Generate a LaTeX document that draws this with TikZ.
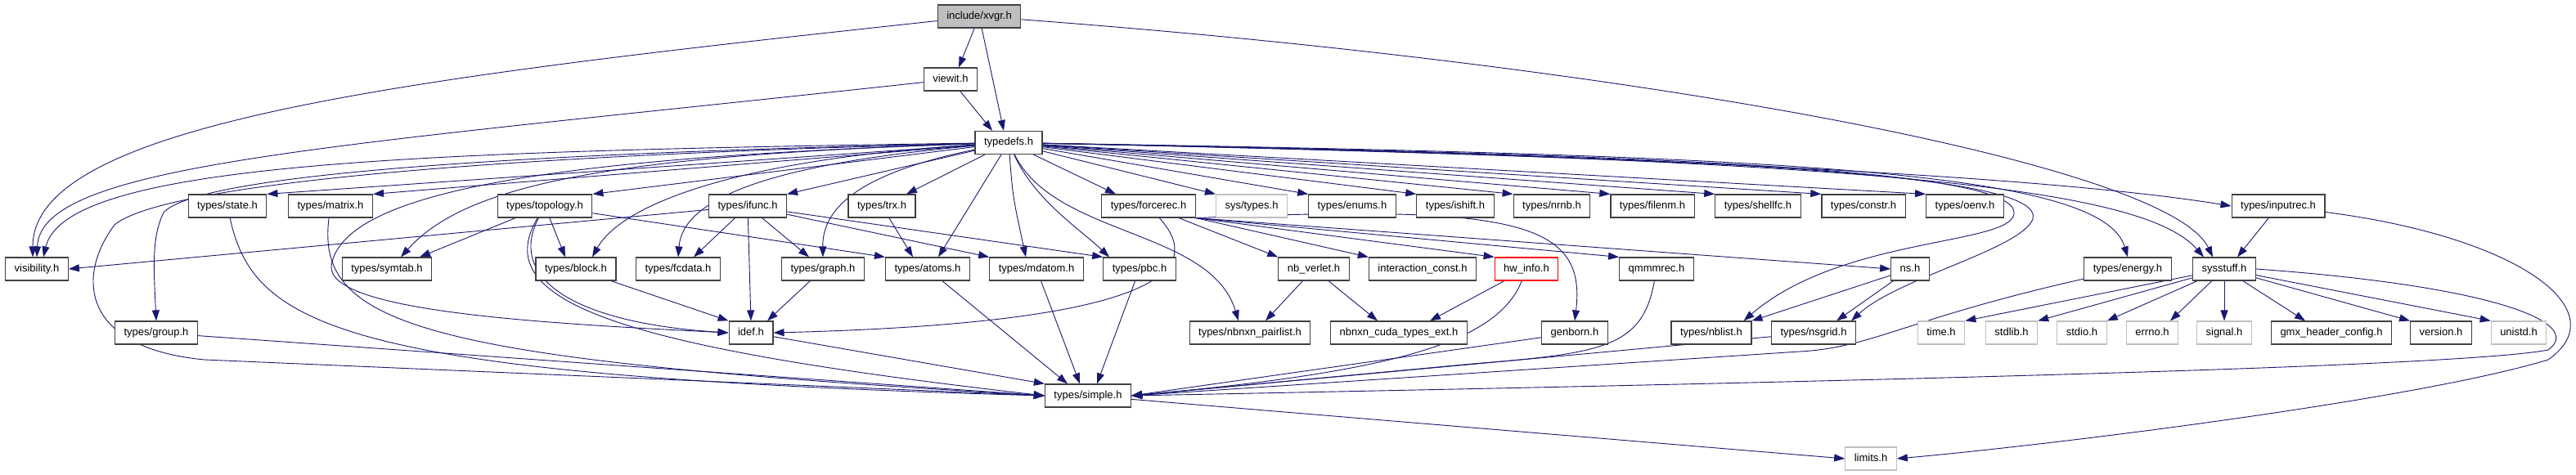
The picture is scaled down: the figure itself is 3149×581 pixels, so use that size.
\documentclass[tikz,border=0pt]{standalone}
\usepackage{fontspec}
\setmainfont{Liberation Sans}
\usepackage{tikz}
\usetikzlibrary{arrows.meta,backgrounds}
\definecolor{edgeblue}{HTML}{191970}

\begin{document}
\begin{tikzpicture}[x=1pt, y=-1pt, font=\fontsize{13}{15}\selectfont,
  box/.style={draw=black!75, line width=1.2pt, fill=white, inner xsep=11pt, inner ysep=0pt, minimum height=28pt, text height=9.5pt, text depth=2.7pt},
  sysbox/.style={box, draw=black!25},
  arr/.style={-{Triangle[length=13pt, width=9pt]}, line width=0.9pt, edgeblue}]
\useasboundingbox (0,0) rectangle (3149,581);
% top
\node[box, fill=black!25] (xvgr) at (1197,20) {include/xvgr.h};
\node[box] (viewit) at (1162,97) {viewit.h};
\node[box] (typedefs) at (1233,174.5) {typedefs.h};
% row 1
\node[box] (state) at (278,252) {types/state.h};
\node[box] (matrix) at (404,252) {types/matrix.h};
\node[box] (topology) at (666,252) {types/topology.h};
\node[box] (ifunc) at (914,252) {types/ifunc.h};
\node[box] (trx) at (1078,252) {types/trx.h};
\node[box] (forcerec) at (1404,252) {types/forcerec.h};
\node[sysbox] (systypes) at (1530,252) {sys/types.h};
\node[box] (enums) at (1653,252) {types/enums.h};
\node[box] (ishift) at (1779,252) {types/ishift.h};
\node[box] (nrnb) at (1897,252) {types/nrnb.h};
\node[box] (filenm) at (2020,252) {types/filenm.h};
\node[box] (shellfc) at (2149,252) {types/shellfc.h};
\node[box] (constr) at (2278,252) {types/constr.h};
\node[box] (oenv) at (2402,252) {types/oenv.h};
\node[box] (inputrec) at (2785,252) {types/inputrec.h};
% row 2
\node[box] (visibility) at (45,329) {visibility.h};
\node[box] (symtab) at (473,329) {types/symtab.h};
\node[box] (block) at (704,329) {types/block.h};
\node[box] (fcdata) at (829,329) {types/fcdata.h};
\node[box] (graph) at (1006,329) {types/graph.h};
\node[box] (atoms) at (1134,329) {types/atoms.h};
\node[box] (mdatom) at (1267,329) {types/mdatom.h};
\node[box] (pbc) at (1393,329) {types/pbc.h};
\node[box] (nbverlet) at (1606,329) {nb\_verlet.h};
\node[box] (iconst) at (1739,329) {interaction\_const.h};
\node[box, draw=red] (hwinfo) at (1866,329) {hw\_info.h};
\node[box] (qmmm) at (2025,329) {qmmmrec.h};
\node[box] (ns) at (2335,329) {ns.h};
\node[box] (energy) at (2601,329) {types/energy.h};
\node[box] (sysstuff) at (2719,329) {sysstuff.h};
% row 3
\node[box] (group) at (191,407) {types/group.h};
\node[box] (idef) at (918,407) {idef.h};
\node[box] (pairlist) at (1528,407) {types/nbnxn\_pairlist.h};
\node[box] (cudaext) at (1710,407) {nbnxn\_cuda\_types\_ext.h};
\node[box] (genborn) at (1925,407) {genborn.h};
\node[box] (nblist) at (2092,407) {types/nblist.h};
\node[box] (nsgrid) at (2217,407) {types/nsgrid.h};
\node[sysbox] (time) at (2373,407) {time.h};
\node[sysbox] (stdlib) at (2459,407) {stdlib.h};
\node[sysbox] (stdio) at (2545,407) {stdio.h};
\node[sysbox] (errno) at (2631,407) {errno.h};
\node[sysbox] (signal) at (2719,407) {signal.h};
\node[box] (gmxconf) at (2850,407) {gmx\_header\_config.h};
\node[box] (version) at (2984,407) {version.h};
\node[sysbox] (unistd) at (3079,407) {unistd.h};
% bottom
\node[box] (simple) at (1330,484) {types/simple.h};
\node[sysbox] (limits) at (2287,561) {limits.h};

\begin{scope}[on background layer]
\fill[white] (0,0) rectangle (3149,581);
% include/xvgr.h
\draw[arr] (xvgr) -- ([xshift=10pt]viewit.north);
\draw[arr] (xvgr) -- ([xshift=-6pt]typedefs.north);
\draw[arr] (xvgr) .. controls (500,95) and (40,150) .. ([xshift=-5pt]visibility.north);
\draw[arr] (xvgr) .. controls (2000,80) and (2650,200) .. ([xshift=-14pt]sysstuff.north);
% viewit.h
\draw[arr] (viewit) -- ([xshift=-20pt]typedefs.north);
\draw[arr] (viewit) .. controls (400,180) and (50,200) .. (visibility.north);
% typedefs.h
\draw[arr] (typedefs) .. controls (500,185) and (80,200) .. ([xshift=8pt]visibility.north);
\draw[arr] (typedefs) -- (state.north east);
\draw[arr] (typedefs) -- (matrix.north east);
\draw[arr] (typedefs) -- (topology.north east);
\draw[arr] (typedefs) -- (ifunc.north east);
\draw[arr] (typedefs) -- ([xshift=30pt]trx.north);
\draw[arr] (typedefs) -- ([xshift=-40pt]forcerec.north);
\draw[arr] (typedefs) -- (systypes.north west);
\draw[arr] (typedefs) -- (enums.north west);
\draw[arr] (typedefs) -- (ishift.north west);
\draw[arr] (typedefs) -- (nrnb.north west);
\draw[arr] (typedefs) -- (filenm.north west);
\draw[arr] (typedefs) -- (shellfc.north west);
\draw[arr] (typedefs) -- (constr.north west);
\draw[arr] (typedefs) -- (oenv.north west);
\draw[arr] (typedefs) .. controls (2000,190) and (2500,215) .. (inputrec.west);
\draw[arr] (typedefs) .. controls (2200,190) and (2570,210) .. (energy.north);
\draw[arr] (typedefs) .. controls (2300,195) and (2620,230) .. ([xshift=-25pt]sysstuff.north);
\draw[arr] (typedefs) .. controls (2100,190) and (2470,210) .. (2462,262) .. controls (2455,300) and (2250,290) .. ([xshift=-10pt]nblist.north east);
\draw[arr] (typedefs) .. controls (2150,192) and (2500,215) .. (2485,268) .. controls (2470,305) and (2320,340) .. ([xshift=46pt]nsgrid.north);
\draw[arr] (typedefs) .. controls (600,190) and (200,225) .. (140,275) .. controls (95,335) and (95,425) .. (250,440) -- (simple.west);
\draw[arr] (typedefs) .. controls (600,188) and (240,215) .. (200,260) .. controls (185,290) and (188,330) .. (group.north);
\draw[arr] (typedefs) .. controls (750,190) and (570,225) .. ([xshift=17pt]symtab.north);
\draw[arr] (typedefs) .. controls (900,195) and (760,250) .. ([xshift=20pt]block.north);
\draw[arr] (typedefs) .. controls (950,200) and (835,240) .. (fcdata.north);
\draw[arr] (typedefs) .. controls (1060,210) and (1005,250) .. (graph.north);
\draw[arr] (typedefs) .. controls (700,192) and (420,230) .. (405,325) .. controls (400,380) and (650,395) .. (idef.west);
\draw[arr] (typedefs) -- ([xshift=13pt]atoms.north);
\draw[arr] (typedefs) .. controls (1238,240) .. ([xshift=-13pt]mdatom.north);
\draw[arr] (typedefs) .. controls (1265,245) and (1320,280) .. ([xshift=-37pt]pbc.north);
\draw[arr] (typedefs) .. controls (1290,290) and (1480,280) .. ([xshift=-14pt]pairlist.north);
% row 1
\draw[arr] (state) .. controls (310,400) and (420,460) .. (simple.west);
\draw[arr] (matrix) .. controls (385,400) and (520,440) .. (simple.west);
\draw[arr] (topology) -- ([xshift=40pt]symtab.north);
\draw[arr] (topology) -- ([xshift=-13pt]block.north);
\draw[arr] (topology) .. controls (620,340) and (700,395) .. (idef.west);
\draw[arr] (topology) .. controls (595,370) and (760,425) .. (simple.west);
\draw[arr] (topology) -- (atoms.north west);
\draw[arr] (ifunc) -- (visibility.east);
\draw[arr] (ifunc) -- ([xshift=19pt]fcdata.north);
\draw[arr] (ifunc) -- ([xshift=-17pt]graph.north);
\draw[arr] (ifunc) -- (idef.north);
\draw[arr] (ifunc) -- (mdatom.north west);
\draw[arr] (ifunc) -- (pbc.north west);
\draw[arr] (trx) -- ([xshift=-18pt]atoms.north);
\draw[arr] (forcerec) .. controls (1475,330) and (1420,395) .. (idef.east);
\draw[arr] (forcerec) -- (nbverlet.north west);
\draw[arr] (forcerec.south east) -- (iconst.north west);
\draw[arr] (forcerec.south east) -- (hwinfo.north west);
\draw[arr] (forcerec.south east) -- (qmmm.north west);
\draw[arr] (forcerec.south east) -- (ns.west);
\draw[arr] (forcerec.south east) .. controls (1850,250) and (1940,270) .. (genborn.north);
\draw[arr] (inputrec) -- ([xshift=16pt]sysstuff.north);
\draw[arr] (inputrec) .. controls (3080,290) and (3200,380) .. (3115,440) .. controls (2950,490) and (2500,545) .. (limits.east);
% row 2
\draw[arr] (block) -- (idef.north west);
\draw[arr] (graph) -- ([xshift=20pt]idef.north);
\draw[arr] (atoms) -- ([xshift=-25pt]simple.north);
\draw[arr] (mdatom) -- ([xshift=-10pt]simple.north);
\draw[arr] (pbc) -- ([xshift=11pt]simple.north);
\draw[arr] (nbverlet) -- ([xshift=19pt]pairlist.north);
\draw[arr] (nbverlet) -- ([xshift=-26pt]cudaext.north);
\draw[arr] (hwinfo) -- ([xshift=38pt]cudaext.north);
\draw[arr] (hwinfo) .. controls (1830,420) and (1700,455) .. (simple.east);
\draw[arr] (qmmm) .. controls (2008,425) and (1960,432) .. (1800,445) -- (simple.east);
\draw[arr] (ns) -- (nblist.north east);
\draw[arr] (ns) -- ([xshift=28pt]nsgrid.north);
\draw[arr] (energy) .. controls (2330,390) and (2290,425) .. (2200,430) -- (simple.east);
\draw[arr] (sysstuff) -- (time.north east);
\draw[arr] (sysstuff) -- (stdlib.north east);
\draw[arr] (sysstuff) -- (stdio.north east);
\draw[arr] (sysstuff) -- ([xshift=22pt]errno.north);
\draw[arr] (sysstuff) -- (signal.north);
\draw[arr] (sysstuff) -- ([xshift=-32pt]gmxconf.north);
\draw[arr] (sysstuff) -- (version.north west);
\draw[arr] (sysstuff) -- (unistd.north west);
\draw[arr] (sysstuff.east) .. controls (3050,350) and (3160,395) .. (3115,428) .. controls (3000,450) and (2200,468) .. (simple.east);
% row 3
\draw[arr] (group) -- (simple.west);
\draw[arr] (idef) -- (simple.north west);
\draw[arr] (genborn) -- (simple.east);
\draw[arr] (nsgrid) -- (simple.east);
\draw[arr] (simple) -- (limits.west);
\end{scope}
\end{tikzpicture}
\end{document}
